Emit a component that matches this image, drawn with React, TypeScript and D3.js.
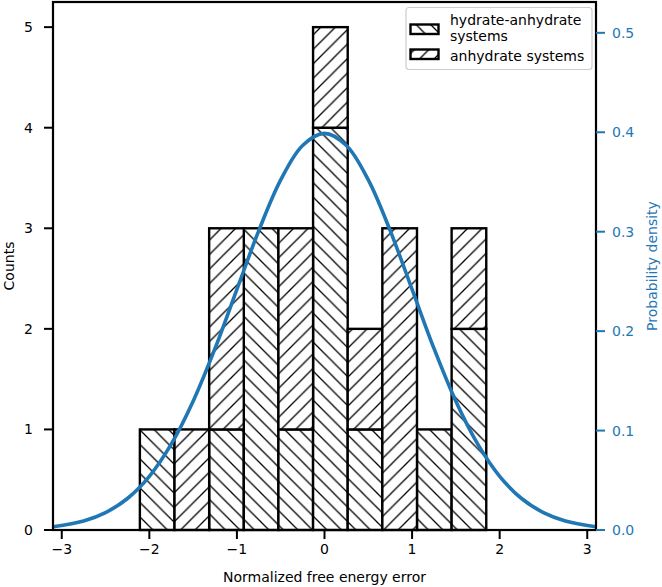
import React from "react";
import * as d3 from "d3";

// Histogram bins (normalized free energy error)
const binStart = -2.108;
const binWidth = 0.3955;
const hydrateCounts = [1, 0, 1, 3, 1, 4, 1, 0, 1, 2];
const anhydrateCounts = [0, 1, 2, 0, 2, 1, 1, 3, 0, 1];

// Fitted density curve
const curveX = [-3.1, -2.75, -2.5, -2.25, -2, -1.75, -1.5, -1.25, -1, -0.75, -0.5, -0.25, 0, 0.25, 0.5, 0.75, 1, 1.25, 1.5, 1.75, 2, 2.25, 2.5, 2.75, 3.1];
const curveY = [0.0033, 0.0091, 0.0175, 0.0317, 0.054, 0.0863, 0.1295, 0.1826, 0.242, 0.3011, 0.3521, 0.3867, 0.3989, 0.3867, 0.3521, 0.3011, 0.242, 0.1826, 0.1295, 0.0863, 0.054, 0.0317, 0.0175, 0.0091, 0.0033];

const xTicks = [-3, -2, -1, 0, 1, 2, 3];
const yTicks = [0, 1, 2, 3, 4, 5];
const y2Ticks = [0.0, 0.1, 0.2, 0.3, 0.4, 0.5];
const legendLabels = [["hydrate-anhydrate", "systems"], ["anhydrate systems"]];

const W = 662, H = 587;
const L = 53, R = 596, T = 2, B = 530;
const BLUE = "#1f77b4";
const FONT = "DejaVu Sans, sans-serif";
const FS = 14;
const HS = 14.5;

export default function App() {
  const x = d3.scaleLinear().domain([-3.1, 3.1]).range([L, R]);
  const y = d3.scaleLinear().domain([0, 5.25]).range([B, T]);
  const y2 = d3.scaleLinear().domain([0, 0.531]).range([B, T]);
  const line = d3
    .line<number>()
    .x((_, i) => x(curveX[i]))
    .y((d) => y2(d))
    .curve(d3.curveCatmullRom);

  const bins = hydrateCounts.map((h, i) => ({
    x0: binStart + i * binWidth,
    x1: binStart + (i + 1) * binWidth,
    h,
    a: anhydrateCounts[i],
  }));

  const fmt = (v: number) => (v < 0 ? "\u2212" + Math.abs(v) : String(v));

  return (
    <svg width={W} height={H} style={{ position: "absolute", left: 0, top: 0, background: "#fff" }} fontFamily={FONT}>
      <defs>
        <pattern id="hBack" patternUnits="userSpaceOnUse" width={HS} height={HS}>
          <rect width={HS} height={HS} fill="#fff" />
          <path d={`M-1,-1L${HS + 1},${HS + 1}M${HS - 1},-1L${HS + 1},1M-1,${HS - 1}L1,${HS + 1}`} stroke="#000" strokeWidth={1.3} />
        </pattern>
        <pattern id="hFwd" patternUnits="userSpaceOnUse" width={HS} height={HS}>
          <rect width={HS} height={HS} fill="#fff" />
          <path d={`M-1,${HS + 1}L${HS + 1},-1M-1,1L1,-1M${HS - 1},${HS + 1}L${HS + 1},${HS - 1}`} stroke="#000" strokeWidth={1.3} />
        </pattern>
        <clipPath id="plot">
          <rect x={L} y={T} width={R - L} height={B - T} />
        </clipPath>
      </defs>

      {/* hydrate-anhydrate bars (bottom) */}
      {bins.map((b, i) => (
        <rect key={"h" + i} x={x(b.x0)} y={y(b.h)} width={x(b.x1) - x(b.x0)} height={y(0) - y(b.h)}
          fill="url(#hBack)" stroke="#000" strokeWidth={2.4} />
      ))}
      {/* anhydrate bars (stacked) */}
      {bins.map((b, i) => (
        <rect key={"a" + i} x={x(b.x0)} y={y(b.h + b.a)} width={x(b.x1) - x(b.x0)} height={y(b.h) - y(b.h + b.a)}
          fill="url(#hFwd)" stroke="#000" strokeWidth={2.4} />
      ))}

      {/* density curve */}
      <path d={line(curveY) || ""} fill="none" stroke={BLUE} strokeWidth={3.6} clipPath="url(#plot)" />

      {/* spines */}
      <rect x={L} y={T} width={R - L} height={B - T} fill="none" stroke="#000" strokeWidth={2.2} />

      {/* x axis */}
      {xTicks.map((t) => (
        <g key={"x" + t}>
          <line x1={x(t)} x2={x(t)} y1={B} y2={B + 9} stroke="#000" strokeWidth={2} />
          <text x={x(t)} y={549} fontSize={FS} textAnchor="middle" dominantBaseline="central">{fmt(t)}</text>
        </g>
      ))}
      <text x={(L + R) / 2} y={577} fontSize={FS} textAnchor="middle" dominantBaseline="central">Normalized free energy error</text>

      {/* left y axis */}
      {yTicks.map((t) => (
        <g key={"y" + t}>
          <line x1={L - 9} x2={L} y1={y(t)} y2={y(t)} stroke="#000" strokeWidth={2} />
          <text x={33} y={y(t)} fontSize={FS} textAnchor="end" dominantBaseline="central">{t}</text>
        </g>
      ))}
      <text transform={`translate(9,${(T + B) / 2}) rotate(-90)`} fontSize={FS} textAnchor="middle" dominantBaseline="central">Counts</text>

      {/* right y axis */}
      {y2Ticks.map((t) => (
        <g key={"y2" + t}>
          <line x1={R} x2={R + 9} y1={y2(t)} y2={y2(t)} stroke={BLUE} strokeWidth={2} />
          <text x={612} y={y2(t)} fontSize={FS} fill={BLUE} dominantBaseline="central">{t.toFixed(1)}</text>
        </g>
      ))}
      <text transform={`translate(652,${(T + B) / 2}) rotate(-90)`} fontSize={FS} fill={BLUE} textAnchor="middle" dominantBaseline="central">Probability density</text>

      {/* legend */}
      <rect x={406} y={7.5} width={186} height={62} rx={3} fill="#fff" fillOpacity={0.8} stroke="#ccc" strokeWidth={1.2} />
      <rect x={410.5} y={24.5} width={28} height={9.5} fill="url(#hBack)" stroke="#000" strokeWidth={2.4} />
      <text x={450} y={19.5} fontSize={FS} dominantBaseline="central">{legendLabels[0][0]}</text>
      <text x={450} y={36} fontSize={FS} dominantBaseline="central">{legendLabels[0][1]}</text>
      <rect x={410.5} y={49.5} width={28} height={9.5} fill="url(#hFwd)" stroke="#000" strokeWidth={2.4} />
      <text x={450} y={55.5} fontSize={FS} dominantBaseline="central">{legendLabels[1][0]}</text>
    </svg>
  );
}
